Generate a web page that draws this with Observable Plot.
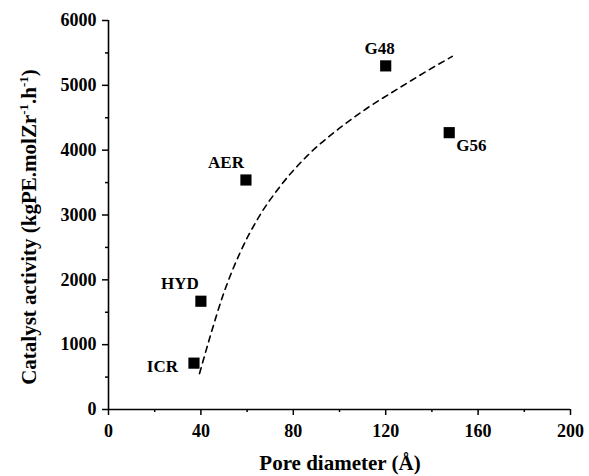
<!DOCTYPE html>
<html><head><meta charset="utf-8">
<script src="https://cdn.jsdelivr.net/npm/d3@7"></script>
<script src="https://cdn.jsdelivr.net/npm/@observablehq/plot@0.6"></script>
<style>
body{margin:0;background:#fff}
svg{font-family:"Liberation Serif","Times New Roman",serif;}
</style>
</head><body><div id="chart"></div>
<script>
// Data
const sampleNames = ["ICR", "HYD", "AER", "G48", "G56"];
const poreDiameter = [37, 40, 59.5, 120, 147.5];
const catalystActivity = [715, 1670, 3540, 5300, 4270];
// dashed trend curve
const fitX = [39.4, 44.1, 49.8, 57.1, 64.3, 74.4, 85.9, 98.9, 111.9, 124.9, 136.5, 148.8];
const fitY = [554, 1138, 1785, 2431, 2923, 3446, 3908, 4308, 4646, 4938, 5192, 5446];
// ticks
const xTicks = [0, 40, 80, 120, 160, 200];
const xMinor = [20, 60, 100, 140, 180];
const yTicks = [0, 1000, 2000, 3000, 4000, 5000, 6000];
const yMinor = [500, 1500, 2500, 3500, 4500, 5500];
const xTitle = "Pore diameter (Å)";

const points = sampleNames.map((name, i) => ({name, x: poreDiameter[i], y: catalystActivity[i]}));
const fit = fitX.map((x, i) => ({x, y: fitY[i]}));
const only = n => points.filter(d => d.name === n);
const lab = {fontSize: 17, fontWeight: "bold", fill: "black"};

const plot = Plot.plot({
  width: 589, height: 476,
  marginLeft: 108, marginRight: 19, marginTop: 20, marginBottom: 67,
  style: {fontFamily: '"Liberation Serif","Times New Roman",serif', fontSize: "18px", fontWeight: "bold", color: "#000", background: "#fff"},
  x: {domain: [0, 200]},
  y: {domain: [0, 6000]},
  marks: [
    Plot.axisX({ticks: xMinor, tickSize: 3, tickFormat: () => "", label: null, strokeWidth: 1.5, stroke: "black"}),
    Plot.axisX({ticks: xTicks, tickSize: 6, tickPadding: 9, label: null, strokeWidth: 1.5, stroke: "black", tickFormat: d => String(d)}),
    Plot.axisY({ticks: yMinor, tickSize: 3, tickFormat: () => "", label: null, strokeWidth: 1.5, stroke: "black"}),
    Plot.axisY({ticks: yTicks, tickSize: 6, tickPadding: 6, label: null, strokeWidth: 1.5, stroke: "black", tickFormat: d => String(d)}),
    Plot.ruleY([0], {strokeWidth: 1.6}),
    Plot.ruleX([0], {strokeWidth: 1.6}),
    Plot.line(fit, {x: "x", y: "y", curve: "monotone-x", strokeDasharray: "6,5", strokeWidth: 1.6, stroke: "black"}),
    Plot.dot(points, {x: "x", y: "y", symbol: "square", r: 6.3, fill: "black", stroke: null}),
    Plot.text(only("ICR"), {x: "x", y: "y", text: "name", textAnchor: "end", dx: -16, dy: 3, ...lab}),
    Plot.text(only("HYD"), {x: "x", y: "y", text: "name", textAnchor: "end", dx: -2, dy: -18, ...lab}),
    Plot.text(only("AER"), {x: "x", y: "y", text: "name", textAnchor: "end", dx: -2, dy: -17, ...lab}),
    Plot.text(only("G48"), {x: "x", y: "y", text: "name", textAnchor: "middle", dx: -6, dy: -17, ...lab}),
    Plot.text(only("G56"), {x: "x", y: "y", text: "name", textAnchor: "start", dx: 7, dy: 13, ...lab})
  ]
});

document.getElementById("chart").appendChild(plot);
const svg = d3.select(plot);
svg.append("text")
  .attr("x", 340).attr("y", 470)
  .attr("text-anchor", "middle")
  .attr("font-size", 21).attr("font-weight", "bold").attr("fill", "black")
  .text(xTitle);
const yt = svg.append("text")
  .attr("transform", "translate(36,227) rotate(-90)")
  .attr("text-anchor", "middle")
  .attr("font-size", 21).attr("font-weight", "bold").attr("fill", "black");
yt.append("tspan").text("Catalyst activity (kgPE.molZr");
yt.append("tspan").attr("dy", -8).attr("font-size", 13).text("-1");
yt.append("tspan").attr("dy", 8).text(".h");
yt.append("tspan").attr("dy", -8).attr("font-size", 13).text("-1");
yt.append("tspan").attr("dy", 8).text(")");
</script>
</body></html>
